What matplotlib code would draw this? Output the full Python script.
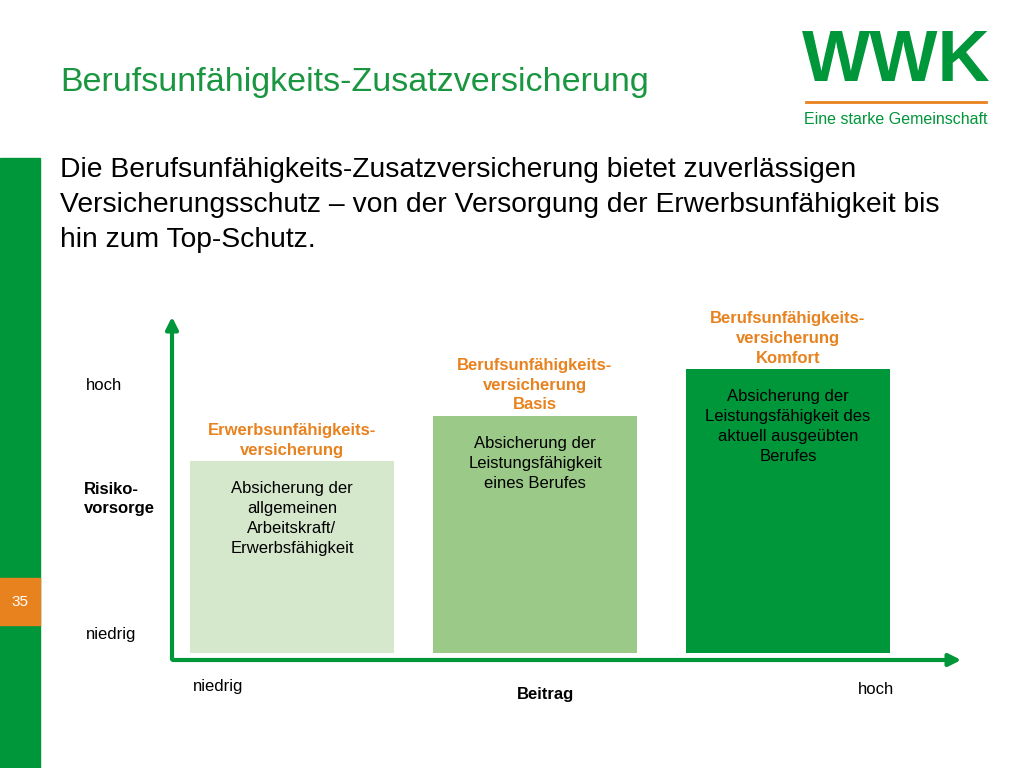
import matplotlib.pyplot as plt
from matplotlib.patches import Rectangle, FancyArrowPatch

plt.rcParams["font.family"] = ["Liberation Sans", "DejaVu Sans"]

GREEN = "#00963a"
ORANGE = "#e8821e"
NARROW = ["Liberation Sans Narrow", "Liberation Sans"]

# Data
categories = ["Erwerbsunfähigkeits-\nversicherung",
              "Berufsunfähigkeits-\nversicherung\nBasis",
              "Berufsunfähigkeits-\nversicherung\nKomfort"]
descriptions = ["Absicherung der\nallgemeinen\nArbeitskraft/\nErwerbsfähigkeit",
                "Absicherung der\nLeistungsfähigkeit\neines Berufes",
                "Absicherung der\nLeistungsfähigkeit des\naktuell ausgeübten\nBerufes"]
beitrag = [120, 363, 616]
risiko = [56.5, 69.8, 83.6]
bar_colors = ["#d5e8cc", "#9bc987", "#00963a"]

W, H = 1024, 768
fig = plt.figure(figsize=(W / 100, H / 100), dpi=100)

# background decorations in pixel coords
bg = fig.add_axes([0, 0, 1, 1])
bg.set_xlim(0, W)
bg.set_ylim(H, 0)
bg.axis("off")
bg.add_patch(Rectangle((0, 158), 40, 610, color=GREEN))
bg.add_patch(Rectangle((0, 578), 40, 47, color=ORANGE))
bg.text(20, 602, "35", color="white", fontsize=11, ha="center", va="center")

bg.text(60, 82, "Berufsunfähigkeits-Zusatzversicherung", color="#1a9641",
        fontsize=24.5, va="center")
bg.text(60, 205, "Die Berufsunfähigkeits-Zusatzversicherung bietet zuverlässigen\n"
        "Versicherungsschutz – von der Versorgung der Erwerbsunfähigkeit bis\n"
        "hin zum Top-Schutz.", fontsize=20.3, va="center", linespacing=1.45)

# logo
bg.text(896, 62, "WWK", color=GREEN, fontsize=52, fontweight="bold",
        ha="center", va="center", family=NARROW)
bg.plot([806, 986], [102, 102], color=ORANGE, lw=2)
bg.text(896, 119, "Eine starke Gemeinschaft", color=GREEN, fontsize=11.5,
        ha="center", va="center", family=NARROW)

# axes arrows
bg.add_patch(FancyArrowPatch((172, 662), (172, 314), arrowstyle="-|>",
                             mutation_scale=18, color=GREEN, lw=3))
bg.add_patch(FancyArrowPatch((170, 660), (964, 660), arrowstyle="-|>",
                             mutation_scale=18, color=GREEN, lw=3))
bg.text(86, 386, "hoch", fontsize=12, va="center")
bg.text(84, 499, "Risiko-\nvorsorge", fontsize=12, fontweight="bold", va="center",
        linespacing=1.4)
bg.text(86, 634, "niedrig", fontsize=12, va="center")
bg.text(193, 687, "niedrig", fontsize=12, va="center")
bg.text(545, 694, "Beitrag", fontsize=12, fontweight="bold", ha="center", va="center")
bg.text(858, 690, "hoch", fontsize=12, va="center")

# bars
ax = fig.add_axes([172 / W, 1 - 660 / H, 788 / W, 340 / H])
ax.set_xlim(0, 788)
ax.set_ylim(0, 100)
ax.axis("off")
ax.bar(beitrag, risiko, width=204, bottom=2, color=bar_colors)
for x, top, cat, desc in zip(beitrag, risiko, categories, descriptions):
    ax.text(x, top + 2 + 1.0, cat, color=ORANGE, fontsize=12, fontweight="bold",
            ha="center", va="bottom", linespacing=1.4)
    ax.text(x, top + 2 - 6, desc, color="black", fontsize=12,
            ha="center", va="top", linespacing=1.4)

fig.savefig("out.png", dpi=100)
